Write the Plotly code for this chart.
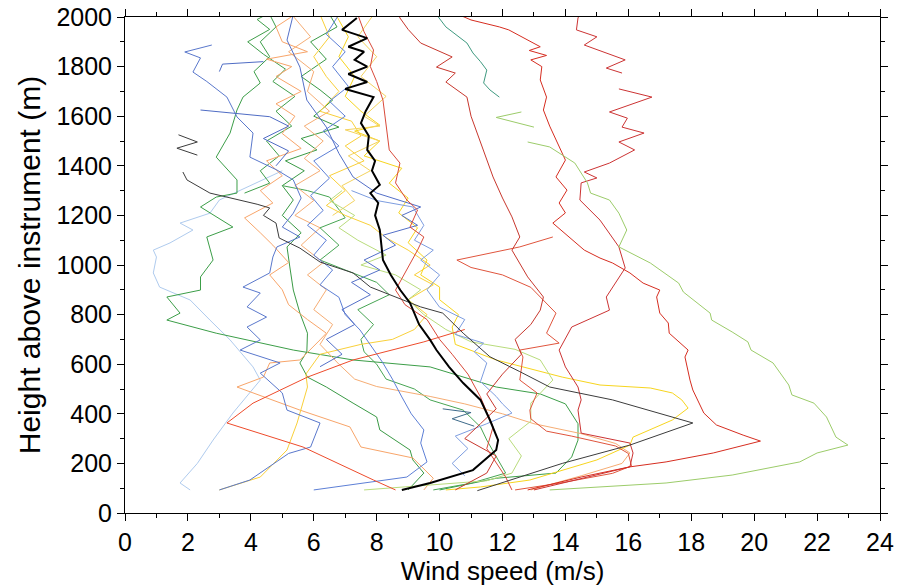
import plotly.graph_objects as go

# ---- wind-speed profiles (speed in m/s, height in m) ----
mean_h = [93, 121, 173, 254, 294, 375, 456, 524, 589, 657, 698, 760, 847, 899, 960, 1020, 1080, 1141, 1200, 1250,
          1290, 1323, 1380, 1420, 1464, 1520, 1572, 1620, 1677, 1710, 1738, 1770, 1800, 1827, 1860, 1880, 1915, 1948, 1996]
mean_v = [8.8, 9.7, 11.06, 11.8, 11.86, 11.6, 11.3, 10.75, 10.3, 9.9, 9.7, 9.35, 9.06, 8.75, 8.45, 8.2, 8.15, 8.1, 7.95, 8.05,
          7.8, 8.1, 7.85, 7.95, 7.7, 7.75, 7.5, 7.65, 7.9, 7.0, 7.7, 7.1, 7.7, 7.3, 7.6, 7.1, 7.7, 6.9, 7.37]

gray_h = [90, 200, 274, 363, 456, 508, 570, 630, 725, 806, 831, 887, 911, 968, 1012, 1068, 1109, 1169, 1200, 1230, 1245, 1290, 1343, 1375,
          None, 1525, 1496, 1471, 1443]
gray_v = [11.2, 13.9, 16.05, 18.05, 15.5, 13.5, 12.55, 11.6, 10.75, 10.1, 9.4, 8.3, 7.8, 7.25, 6.2, 5.56, 4.9, 4.8, 4.4, 4.6, 4.2, 2.7, 1.97, 1.84,
          None, 1.7, 2.3, 1.65, 2.3]

lgreen_h = [93, 105, 121, 153, 206, 242, 274, 306, 387, 443, 476, 516, 605, 657, 690, 730, 778, 806, 891, 927, 1008, 1073, 1141, 1209,
            1262, 1290, 1331, 1411, 1476, 1496, None, 1556, 1595, 1617]
lgreen_v = [13.5, 15.1, 17.2, 19.3, 21.45, 22.0, 22.98, 22.6, 22.3, 21.9, 21.2, 21.1, 20.6, 19.9, 19.8, 19.3, 18.65, 18.6, 17.75, 17.6,
            16.7, 15.7, 15.95, 15.7, 15.4, 14.8, 14.7, 14.3, 13.5, 12.8, None, 13.0, 11.8, 12.6]

red1_h = [93, 145, 186, 206, 242, 262, 290, 314, 355, 403, 496, 536, 629, 657, 725, 766, 806, 871, 899, 927, 968, 1008, 1028, 1060,
          1169, 1210, 1250, 1302, 1355, 1423, 1504, 1560, 1625, 1677, 1746, 1800, 1827, 1845, 1865, 1880, 1948, 1960, 1988, 2010]
red1_v = [12.8, 14.5, 16.05, 17.2, 18.7, 19.3, 20.2, 19.65, 18.8, 18.4, 18.05, 17.96, 17.8, 17.9, 17.3, 17.27, 17.0, 16.9, 17.0, 16.47,
          16.05, 15.5, 15.1, 14.6, 13.6, 14.0, 13.8, 14.05, 13.7, 14.0, 13.7, 13.5, 13.3, 13.4, 13.2, 13.25, 12.9, 13.4, 12.85, 13.2,
          12.2, 11.9, 11.0, 10.6]

red2_h = [93, 140, 186, 242, 282, 322, 415, 456, 508, 589, 657, 750, 818, 871, 988, 1073, 1181, 1262, 1331, 1351, 1375, 1411, 1464,
          1496, 1532, 1556, 1592, 1617, 1677, 1710, None, 1774, 1794, 1827, 1887, 1920, 1948, 1996, 2010]
red2_v = [13.0, 14.5, 16.05, 16.15, 16.05, 14.5, 14.4, 14.5, 14.4, 14.0, 13.8, 14.2, 15.4, 15.3, 15.9, 15.7, 15.1, 14.46, 14.5, 15.0,
          14.6, 15.4, 16.2, 15.7, 16.5, 15.8, 15.97, 15.4, 16.75, 15.7, None, 15.8, 15.3, 15.9, 14.6, 15.0, 14.35, 14.4, 14.45]

red3_h = [93, 161, 230, 300, 360, 420, 480, 560, 640, 700, 760, 818, 871, 952, 1060, 1113, 1194, 1270, 1355, 1492, 1600, 1677, 1738,
          1774, 1798, 1839, 1895, 1950, 1996, 2010]
red3_v = [10.5, 11.5, 11.8, 10.8, 11.3, 11.8, 11.5, 12.0, 12.6, 12.4, 12.9, 13.2, 13.3, 12.8, 12.3, 12.55, 12.3, 12.0, 11.7, 11.3,
          11.0, 10.87, 10.2, 10.5, 9.9, 10.4, 9.4, 9.0, 8.74, 8.7]

red4_h = [93, 145, 260, 347, 468, 560, 640, 700, 780, 840, 899, 990, 1060, 1113, 1153, 1222, 1262, 1331, 1411, 1464, 1556, 1665,
          1740, 1800, 1867, 1940, 2010]
red4_v = [12.3, 12.1, 11.5, 11.7, 11.3, 10.9, 10.4, 10.0, 9.6, 8.9, 8.6, 9.0, 9.3, 9.5, 9.06, 9.3, 8.96, 8.6, 8.74, 8.4, 8.3, 8.2,
          8.0, 7.8, 7.9, 7.6, 7.4]

red5_h = [93, 133, 266, 363, 443, 548, 617, 657, 690, 740]
red5_v = [8.6, 7.9, 5.66, 3.24, 4.07, 5.8, 7.25, 8.5, 9.5, 10.8]

red6_h = [93, 120, 160, 190, 240, 270, 310, 330, 380, 415, 484, 536, 629, 657, 685, 725, 806, 859, 910, 960, 990, 1020, 1073, 1113]
red6_v = [12.4, 13.8, 15.5, 16.1, 16.0, 15.6, 14.2, 13.4, 12.9, 12.87, 13.1, 12.55, 12.65, 12.55, 13.8, 13.4, 13.7, 13.3, 12.9, 12.0,
          11.0, 10.55, 12.55, 13.6]

teal_h = [1677, 1706, 1734, 1786, 1820, 1855, 1895, 1930, 1960, 2010]
teal_v = [11.9, 11.6, 11.4, 11.5, 11.3, 11.06, 10.87, 10.5, 10.2, 9.9]

navy_h = [420, 405, 380, 350]
navy_v = [10.1, 11.0, 10.4, 11.1]

green1_h = [93, 140, 161, 226, 294, 360, 440, 480, 508, 560, 589, 617, 657, 725, 778, 806, 871, 899, 952, 1020, 1113, 1153, 1234,
            1274, 1290, 1343, 1435, 1532, 1625, 1677, 1734, 1780, 1840, 1900, 1960, 2010]
green1_v = [10.0, 11.8, 13.7, 14.2, 14.4, 14.4, 14.0, 13.2, 11.8, 10.5, 9.7, 7.25, 5.35, 2.9, 1.33, 1.75, 1.33, 2.4, 2.4, 2.8, 2.6,
            3.43, 2.4, 2.9, 3.56, 3.56, 2.9, 3.34, 3.56, 3.75, 4.3, 4.1, 4.6, 4.3, 4.8, 4.6]

green2_h = [93, 161, 214, 254, 335, 387, 443, 508, 548, 605, 650, 725, 806, 899, 992, 1073, 1130, 1200, 1262, 1320, 1380, 1420, 1464,
            1510, 1556, 1600, 1665, 1706, 1760, 1830, 1900, 1960, 2010]
green2_v = [9.0, 9.5, 9.15, 9.06, 8.1, 8.0, 7.25, 6.4, 5.8, 5.56, 5.78, 5.8, 5.56, 5.35, 5.24, 5.15, 5.6, 5.0, 5.35, 5.0, 5.7, 5.1,
            6.1, 5.6, 6.8, 6.0, 6.6, 6.2, 5.6, 6.4, 5.9, 6.74, 6.5]

green3_h = [93, 120, 161, 226, 294, 347, 415, 456, 500, 540, 600, 650, 700, 760, 820, 880, 930, 980, 1020, 1080, 1150, 1190, 1274,
            1300, 1320]
green3_v = [9.8, 11.0, 12.1, 11.8, 11.5, 11.3, 10.75, 9.7, 9.2, 8.3, 8.0, 7.6, 7.5, 7.9, 7.4, 8.4, 8.0, 7.0, 6.2, 6.8, 6.2, 7.0, 6.5,
            5.8, 5.0]

green4_h = [1290, 1330, 1380, 1440, 1500, 1560, 1620, 1680, 1740, 1790, 1850, 1900, 1950, 1990, 2010]
green4_v = [3.8, 4.6, 4.3, 4.9, 4.5, 5.3, 4.8, 5.4, 4.7, 5.1, 4.4, 3.9, 4.6, 4.2, 4.5]

lblue_h = [93, 121, 200, 294, 403, 536, 589, 698, 778, 859, 911, 968, 1032, 1060, 1089, 1141, 1169, 1209, 1262, 1343, 1380]
lblue_v = [2.07, 1.75, 2.3, 2.8, 3.43, 4.3, 4.07, 3.34, 2.7, 2.07, 1.1, 0.9, 1.0, 0.9, 1.43, 2.16, 1.75, 2.7, 3.0, 4.4, 5.0]

blue1_h = [93, 133, 240, 266, 363, 415, 484, 564, 605, 657, 698, 750, 790, 831, 887, 911, 968, 1032, 1073, 1113, 1153, 1209, 1270,
           1343, 1383, 1435, 1532, 1597, 1677, 1740, 1778, 1835, 1859, 1887]
blue1_v = [3.0, 3.97, 5.2, 5.9, 6.2, 5.15, 5.0, 4.3, 4.93, 3.66, 4.3, 3.88, 4.5, 3.88, 4.3, 3.75, 4.6, 4.7, 4.83, 5.56, 5.0, 5.35,
           5.6, 5.35, 4.83, 3.97, 4.07, 3.56, 3.24, 2.6, 2.16, 2.4, 1.9, 2.76]

blue2_h = [93, 145, 206, 282, 335, 400, 468, 540, 605, 680, 738, 800, 870, 920, 980, 1040, 1100, 1160, 1220, 1280, 1350, 1420,
           1480, 1540, 1600, 1660, 1720, 1800, 1860, 1930, 2010]
blue2_v = [6.0, 8.96, 9.6, 9.4, 9.5, 9.1, 8.8, 8.5, 8.2, 7.8, 7.47, 7.0, 6.8, 6.2, 6.6, 6.0, 6.4, 5.8, 6.3, 5.9, 6.5, 6.0, 6.8, 6.3,
           7.0, 6.5, 7.1, 6.6, 7.0, 6.4, 6.8]

blue3_h = [150, 200, 260, 310, 360, 403, 440, 470, 530, 605, 650, 685, 720, 780, 830, 900, 960, 1020, 1060, 1100, 1160, 1234, 1260, 1300]
blue3_v = [10.8, 10.4, 10.9, 10.5, 11.5, 12.3, 12.0, 11.8, 11.3, 11.5, 11.1, 11.4, 10.5, 10.8, 10.0, 9.6, 10.0, 9.4, 9.8, 9.2, 9.5,
           9.15, 8.0, 7.2]

blue4_h = [590, 640, 700, 760, 820, 880, 930, 980, 1020, 1080, 1120, 1160, 1200, 1234, 1290, 1355, 1450, 1556, 1665, 1798, 1907, 2010]
blue4_v = [6.2, 6.9, 6.4, 7.3, 6.9, 7.8, 7.2, 8.1, 7.6, 8.6, 8.2, 9.3, 8.8, 9.4, 8.0, 7.25, 6.8, 6.4, 5.78, 5.56, 5.15, 5.35]

blue5_h = [1400, 1460, 1510, 1560, 1598, 1612, 1625, None, 1780, 1810, 1820]
blue5_v = [4.8, 5.2, 4.4, 5.2, 4.6, 3.4, 2.4, None, 3.0, 3.1, 4.4]

orange1_h = [93, 140, 222, 266, 347, 415, 508, 548, 605, 617, 698, 725, 780, 840, 900, 960, 1010, 1080, 1130, 1190, 1250, 1300, 1360,
             1420, 1470, 1530, 1600, 1650, 1700, 1760, 1800, 1830, 1860, 1900, 1960, 2010]
orange1_v = [9.5, 9.8, 9.15, 7.5, 7.15, 5.56, 3.56, 4.4, 4.6, 5.56, 6.2, 6.4, 5.8, 5.2, 5.0, 4.6, 5.2, 4.7, 4.3, 3.8, 4.7, 4.3, 5.0,
             4.5, 5.6, 5.0, 5.4, 4.8, 5.6, 4.8, 5.3, 4.5, 5.8, 5.0, 4.8, 5.4]

orange2_h = [93, 150, 200, 242, 280, 320, 360, 400, 440, 470, 510, 540, 600, 680, 760, 820, 900, 960, 1010, 1080, 1150, 1200, 1260,
             1320, 1380, 1430, 1500, 1560, 1620, 1700, 1780, 1860, 1920, 2010]
orange2_v = [12.9, 14.5, 15.8, 16.05, 15.6, 14.5, 13.0, 12.0, 10.8, 9.7, 8.0, 7.3, 6.8, 6.2, 6.6, 6.0, 6.4, 5.8, 6.3, 5.6, 6.2, 5.4,
             6.0, 5.4, 6.2, 5.7, 6.3, 5.7, 6.5, 5.8, 6.0, 5.2, 5.9, 5.3]

yellow1_h = [93, 145, 254, 363, 508, 560, 640, 680, 700, 740, 800, 860, 920, 960, 1000, 1060, 1110, 1160, 1200, 1240, 1300, 1360,
             1420, 1480, 1520, 1580, 1620, 1700, 1760, 1840, 1920, 2010]
yellow1_v = [3.0, 4.3, 5.15, 5.47, 5.8, 5.75, 6.2, 7.5, 8.5, 9.2, 9.6, 9.0, 9.8, 9.2, 9.7, 9.0, 8.3, 7.8, 7.0, 6.4, 7.0, 6.5, 7.6,
             7.0, 7.5, 7.2, 6.2, 6.8, 6.4, 6.0, 6.5, 6.2]

yellow2_h = [93, 105, 133, 214, 274, 306, 375, 423, 456, 484, 504, 516, 548, 617, 680, 750, 800, 860, 911, 960, 1020, 1090, 1150,
             1210, 1270, 1330, 1390, 1440, 1500, 1540, 1564, 1620, 1680, 1760, 1840, 1920, 2010]
yellow2_v = [10.2, 11.3, 12.87, 15.0, 16.05, 16.15, 17.4, 17.9, 17.7, 17.4, 16.7, 15.1, 13.9, 11.8, 10.5, 10.4, 10.6, 10.0, 10.0,
             9.4, 9.6, 9.0, 9.3, 8.7, 9.0, 8.4, 8.8, 7.6, 8.1, 7.3, 8.1, 7.5, 7.0, 7.3, 6.8, 7.1, 6.7]

yellow3_h = [1200, 1260, 1320, 1380, 1440, 1500, 1545, 1560, 1600, 1680, 1760, 1840, 1920, 2010]
yellow3_v = [6.6, 7.3, 6.9, 7.8, 7.1, 8.1, 7.0, 8.1, 7.6, 8.3, 7.5, 8.0, 7.4, 7.9]

ygreen_h = [93, 110, 130, 161, 230, 300, 370, 443, 536, 617, 660, 690, 740, 800, 860, 900, 960, 1000, 1040, 1100, 1150, 1200, 1260, 1300]
ygreen_v = [7.6, 9.5, 11.5, 12.3, 12.6, 12.2, 12.9, 12.9, 13.6, 13.2, 12.4, 11.0, 10.2, 9.5, 9.0, 9.4, 8.6, 7.5, 8.3, 7.4, 6.8, 7.3,
            6.5, 6.9]

# (speeds, heights, colour, width) in drawing order; the mean profile goes last
profiles = [
    (lblue_v, lblue_h, "#afcbee", 1),
    (green1_v, green1_h, "#3c9e48", 1),
    (green2_v, green2_h, "#3a9a45", 1),
    (green3_v, green3_h, "#47a553", 1),
    (green4_v, green4_h, "#3f9e4a", 1),
    (orange1_v, orange1_h, "#f8a56a", 1),
    (orange2_v, orange2_h, "#f6ad74", 1),
    (yellow1_v, yellow1_h, "#f9d03a", 1),
    (yellow2_v, yellow2_h, "#f7d51e", 1),
    (yellow3_v, yellow3_h, "#f4d35e", 1),
    (ygreen_v, ygreen_h, "#b9dc7c", 1),
    (blue1_v, blue1_h, "#5a78cc", 1),
    (blue2_v, blue2_h, "#5d7fd6", 1),
    (blue3_v, blue3_h, "#7d9de0", 1),
    (blue4_v, blue4_h, "#5470c8", 1),
    (blue5_v, blue5_h, "#4f6cc4", 1),
    (navy_v, navy_h, "#3d6a8a", 1),
    (teal_v, teal_h, "#3f9a80", 1),
    (red5_v, red5_h, "#ee4b2b", 1),
    (red6_v, red6_h, "#e0553d", 1),
    (red4_v, red4_h, "#d94a3a", 1),
    (red3_v, red3_h, "#c8372d", 1),
    (red2_v, red2_h, "#cc3333", 1),
    (red1_v, red1_h, "#d62d20", 1),
    (lgreen_v, lgreen_h, "#9ccc6a", 1),
    (gray_v, gray_h, "#3c3c3c", 1),
    (mean_v, mean_h, "#000000", 2),
]

fig = go.Figure()
for v, h, col, w in profiles:
    fig.add_trace(go.Scatter(x=v, y=h, mode="lines", line=dict(color=col, width=w),
                             connectgaps=False, hoverinfo="skip", showlegend=False))

axis_common = dict(
    showline=True, linecolor="#000", linewidth=1, mirror="ticks",
    ticks="outside", ticklen=7, tickwidth=1, tickcolor="#000",
    showgrid=False, zeroline=False, automargin=False,
    tickfont=dict(family="Liberation Sans, Arial, sans-serif", size=25, color="#000"),
)

fig.update_layout(
    width=897, height=588,
    margin=dict(l=125, r=17, t=17, b=75),
    paper_bgcolor="white", plot_bgcolor="white",
    font=dict(family="Liberation Sans, Arial, sans-serif", color="#000"),
    xaxis=dict(range=[0, 24], dtick=2, tick0=0,
               minor=dict(dtick=1, ticklen=4, ticks="outside", tickcolor="#000"),
               title=dict(text="Wind speed (m/s)", font=dict(size=26), standoff=4),
               **axis_common),
    yaxis=dict(range=[0, 2000], dtick=200, tick0=0,
               minor=dict(dtick=100, ticklen=4, ticks="outside", tickcolor="#000"),
               title=dict(text="Height above instrument (m)", font=dict(size=30), standoff=6),
               **axis_common),
)

fig.write_html("out.html")
